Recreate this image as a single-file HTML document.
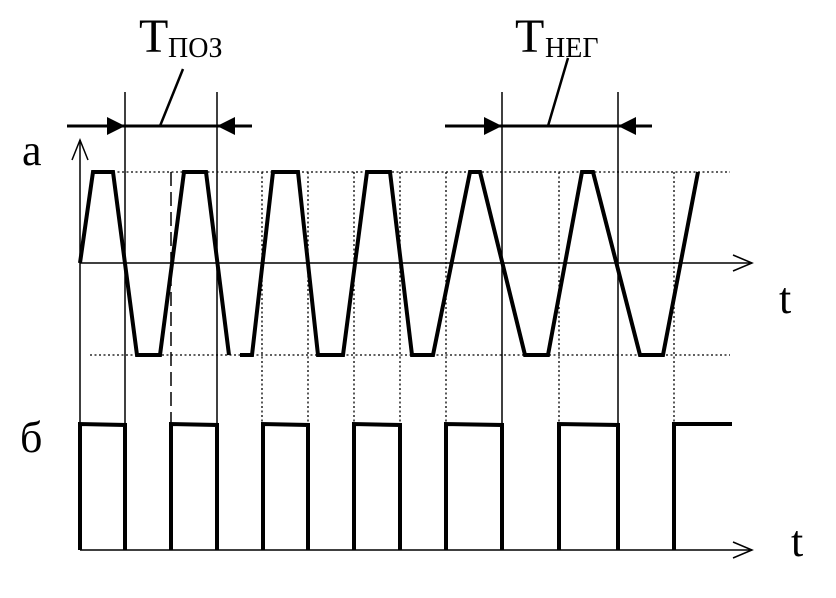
<!DOCTYPE html>
<html><head><meta charset="utf-8"><style>
html,body{margin:0;padding:0;background:#fff;}
svg{display:block;}
</style></head><body>
<svg width="836" height="598" viewBox="0 0 836 598" xmlns="http://www.w3.org/2000/svg">
<rect width="836" height="598" fill="#fff"/>
<!-- dotted grid -->
<g stroke="#000" stroke-width="1.3" stroke-dasharray="2,2.5" fill="none">
<line x1="113" y1="172" x2="730" y2="172"/>
<line x1="90" y1="355" x2="730" y2="355"/>
<line x1="262" y1="172" x2="262" y2="424"/>
<line x1="308" y1="172" x2="308" y2="424"/>
<line x1="354" y1="172" x2="354" y2="424"/>
<line x1="400" y1="172" x2="400" y2="424"/>
<line x1="446" y1="172" x2="446" y2="424"/>
<line x1="559" y1="172" x2="559" y2="424"/>
<line x1="674" y1="172" x2="674" y2="424"/>
</g>
<!-- dashed -->
<line x1="171" y1="172" x2="171" y2="424" stroke="#000" stroke-width="1.5" stroke-dasharray="14,6"/>
<!-- thin solid verticals -->
<g stroke="#000" stroke-width="1.5" fill="none">
<line x1="125" y1="92" x2="125" y2="550"/>
<line x1="217" y1="92" x2="217" y2="550"/>
<line x1="502" y1="92" x2="502" y2="550"/>
<line x1="618" y1="92" x2="618" y2="550"/>
<!-- axes -->
<line x1="80" y1="140" x2="80" y2="550"/>
<polyline points="72,160 80,140 88,160"/>
<line x1="80" y1="263" x2="752" y2="263"/>
<polyline points="733,255 752,263 733,271"/>
<line x1="80" y1="550" x2="752" y2="550"/>
<polyline points="733,542 752,550 733,558"/>
<!-- leaders -->
<line x1="183" y1="69" x2="160" y2="126" stroke-width="2.5"/>
<line x1="568" y1="58" x2="548" y2="126" stroke-width="2.5"/>
</g>
<!-- dimension arrows -->
<g stroke="#000" stroke-width="3" fill="none">
<line x1="67" y1="126" x2="252" y2="126"/>
<line x1="445" y1="126" x2="652" y2="126"/>
</g>
<g fill="#000">
<polygon points="107,117 125,126 107,135"/>
<polygon points="235,117 217,126 235,135"/>
<polygon points="484,117 502,126 484,135"/>
<polygon points="636,117 618,126 636,135"/>
</g>
<!-- trapezoid wave -->
<g stroke="#000" stroke-width="4" fill="none" stroke-linejoin="miter">
<polyline points="80,263 93,172 113,172 137,355 160,355 184,172 206,172 229,355"/>
<polyline points="240,355 252,355 273,172 298,172 318,355 343,355 367,172 390,172 412,355 433,355 470,172 480,172 525,355 548,355 582,172 593,172 640,355 663,355 698,172"/>
</g>
<!-- pulses -->
<g stroke="#000" stroke-width="4" fill="none">
<polyline points="80,550 80,424 125,425 125,550"/>
<polyline points="171,550 171,424 217,425 217,550"/>
<polyline points="263,550 263,424 308,425 308,550"/>
<polyline points="354,550 354,424 400,425 400,550"/>
<polyline points="446,550 446,424 502,425 502,550"/>
<polyline points="559,550 559,424 618,425 618,550"/>
<polyline points="674,550 674,424 732,424"/>
</g>
<!-- labels -->
<g font-family="'Liberation Serif','DejaVu Serif',serif" fill="#000">
<text x="139" y="52" font-size="48">Т</text>
<text x="168" y="57" font-size="28">ПОЗ</text>
<text x="515" y="52" font-size="48">Т</text>
<text x="545" y="57" font-size="28">НЕГ</text>
<text x="22" y="165" font-size="44">а</text>
<text x="20" y="452" font-size="44">б</text>
<text x="779" y="313" font-size="44">t</text>
<text x="791" y="556" font-size="44">t</text>
</g>
</svg>
</body></html>
